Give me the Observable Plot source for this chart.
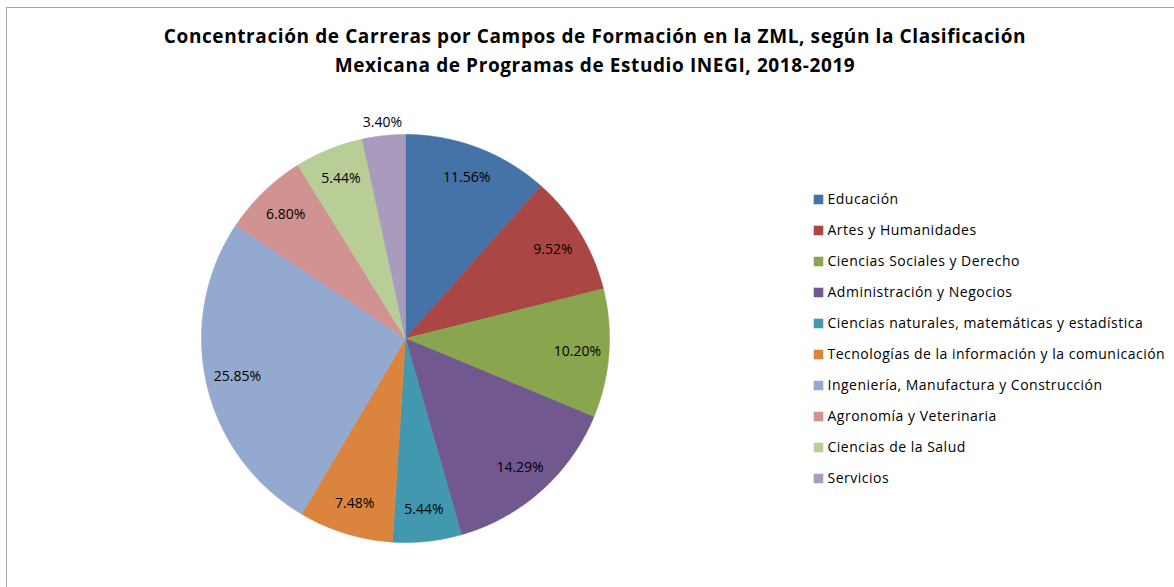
<!DOCTYPE html>
<html><head><meta charset="utf-8">
<script src="https://cdn.jsdelivr.net/npm/d3@7"></script>
<script src="https://cdn.jsdelivr.net/npm/@observablehq/plot@0.6"></script>
<style>
body{margin:0;background:#fff;}
#wrap{position:relative;width:1174px;height:587px;overflow:hidden;font-family:"Open Sans",sans-serif;background:#fff;}
#frame{position:absolute;left:6px;top:7px;width:1300px;height:700px;border-left:1px solid #a6a6a6;border-top:1px solid #a6a6a6;}
#title{position:absolute;left:0;top:22px;width:1190px;text-align:center;font-weight:bold;font-size:19px;letter-spacing:0.6px;line-height:29px;color:#000;}
#pie{position:absolute;left:0;top:90px;}
#legend{position:absolute;left:800px;top:180px;}
svg{overflow:visible;}
</style>
</head><body>
<div id="wrap">
<div id="frame"></div>
<div id="title">Concentración de Carreras por Campos de Formación en la ZML, según la Clasificación<br>Mexicana de Programas de Estudio INEGI, 2018-2019</div>
<div id="pie"></div>
<div id="legend"></div>
</div>
<script>
const categories = [
  "Educación",
  "Artes y Humanidades",
  "Ciencias Sociales y Derecho",
  "Administración y Negocios",
  "Ciencias naturales, matemáticas y estadística",
  "Tecnologías de la información y la comunicación",
  "Ingeniería, Manufactura y Construcción",
  "Agronomía y Veterinaria",
  "Ciencias de la Salud",
  "Servicios"
];
const values = [11.56, 9.52, 10.20, 14.29, 5.44, 7.48, 25.85, 6.80, 5.44, 3.40];
const colors = ["#4572A7","#AA4643","#89A54E","#71588F","#4198AF","#DB843D","#93A9CF","#D19392","#B9CD96","#A99BBD"];

const arcs = d3.pie().sort(null).value(d => d)(values);
const points = [];
arcs.forEach((a, i) => {
  const cat = categories[i];
  points.push({cat, x: 0, y: 0});
  const n = Math.max(2, Math.ceil((a.endAngle - a.startAngle) / (Math.PI / 360)));
  for (let k = 0; k <= n; k++) {
    const t = a.startAngle + (a.endAngle - a.startAngle) * k / n;
    points.push({cat, x: Math.sin(t), y: Math.cos(t)});
  }
  points.push({cat, x: 0, y: 0});
});
const labels = arcs.map((a, i) => {
  const m = (a.startAngle + a.endAngle) / 2;
  const r = values[i] < 4 ? 1.065 : 0.845;
  return {x: r * Math.sin(m), y: r * Math.cos(m), text: values[i].toFixed(2) + "%"};
});

const font = "'Open Sans', sans-serif";
const cx = 405, cy = 248, R = 204, W = 1174, H = 497;
const pie = Plot.plot({
  width: W, height: H,
  marginLeft: cx - R, marginRight: W - cx - R,
  marginTop: cy - R, marginBottom: H - cy - R,
  x: {domain: [-1, 1], axis: null},
  y: {domain: [-1, 1], axis: null},
  color: {domain: categories, range: colors},
  style: {fontFamily: font, background: "transparent"},
  marks: [
    Plot.line(points, {x: "x", y: "y", z: "cat", fill: "cat", stroke: "cat", strokeWidth: 0.6, curve: "linear"}),
    Plot.text(labels, {x: "x", y: "y", text: "text", fontSize: 14, fill: "#000", style: "letter-spacing:0.5px"})
  ]
});
document.getElementById("pie").appendChild(pie);

const legend = Plot.plot({
  width: 374, height: 320, margin: 0,
  y: {type: "point", domain: categories, range: [17, 299], padding: 0, axis: null},
  color: {domain: categories, range: colors},
  style: {fontFamily: font, background: "transparent", letterSpacing: "0.5px"},
  marks: [
    Plot.dot(categories, {y: d => d, fill: d => d, symbol: "square", r: 5.4, frameAnchor: "left", dx: 18, stroke: null}),
    Plot.text(categories, {y: d => d, text: d => d, frameAnchor: "left", dx: 27, textAnchor: "start", fontSize: 14, fill: "#000"})
  ]
});
document.getElementById("legend").appendChild(legend);
</script>
</body></html>
